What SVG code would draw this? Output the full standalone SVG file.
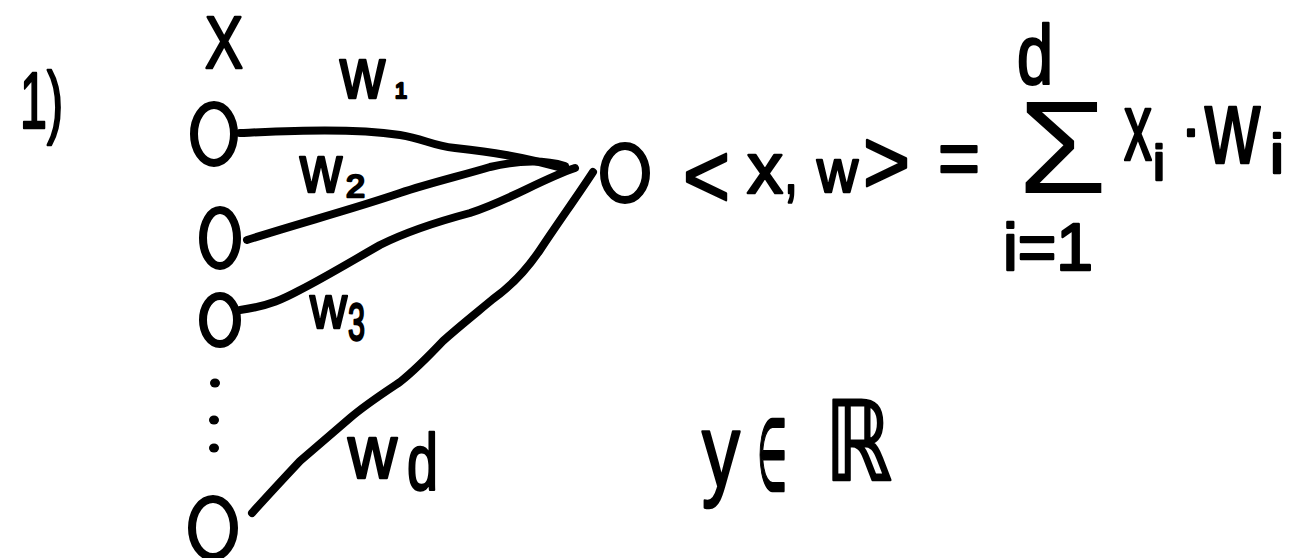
<svg xmlns="http://www.w3.org/2000/svg" width="1300" height="558" viewBox="0 0 1300 558">
<style>
  .bg { fill: #ffffff; }
  .node { fill: none; stroke: #000; stroke-width: 8; }
  .edge { fill: none; stroke: #000; stroke-width: 8; stroke-linecap: round; stroke-linejoin: round; }
  .t { font-family: "Liberation Sans", "DejaVu Sans", Arial, sans-serif; fill: #000; stroke: #000; stroke-width: 2.5; stroke-linejoin: round; }
  .big { stroke-width: 0; }
  .dot { fill: #000; }
</style>
<rect class="bg" x="0" y="0" width="1300" height="558"/>

<text class="t" x="20" y="128" font-size="80" textLength="43" lengthAdjust="spacingAndGlyphs">1)</text>

<g id="connectors">
  <path class="edge" d="M240,133 C290,131 350,128 400,135 C425,139 430,145 455,148 C490,152 520,156 562,168"/>
  <path class="edge" d="M247,240 C300,223 350,210 400,193 C430,183 460,176 490,167 C520,160 545,160 565,166"/>
  <path class="edge" d="M240,310 C270,306 285,298 300,290 C320,280 340,268 380,245 C410,230 440,221 470,213 C510,200 540,180 575,168"/>
  <path class="edge" d="M593,172 C578,195 560,220 540,250 C525,272 510,287 493,299 C470,318 455,330 443,341 C425,360 415,370 400,382 C385,392 365,405 350,418 C330,435 315,448 300,461 C285,477 270,493 252,513"/>
  <text class="t" y="98"><tspan x="340" font-size="72" textLength="45" lengthAdjust="spacingAndGlyphs">w</tspan><tspan x="395" font-size="22" textLength="12" lengthAdjust="spacingAndGlyphs">1</tspan></text>
  <text class="t"><tspan x="300" y="192" font-size="66" textLength="42" lengthAdjust="spacingAndGlyphs">w</tspan><tspan x="346" y="197" font-size="32" textLength="19" lengthAdjust="spacingAndGlyphs">2</tspan></text>
  <text class="t"><tspan x="310" y="328" font-size="62" textLength="37" lengthAdjust="spacingAndGlyphs">w</tspan><tspan x="348" y="340" font-size="52" textLength="17" lengthAdjust="spacingAndGlyphs">3</tspan></text>
  <text class="t"><tspan x="348" y="478" font-size="76" textLength="49" lengthAdjust="spacingAndGlyphs">w</tspan><tspan x="407" y="490" font-size="80" textLength="31" lengthAdjust="spacingAndGlyphs">d</tspan></text>
</g>

<g id="input-1">
  <text class="t" x="205" y="68" font-size="74" textLength="38" lengthAdjust="spacingAndGlyphs">X</text>
  <ellipse class="node" cx="214" cy="134" rx="20" ry="29"/>
</g>
<g id="input-2">
  <ellipse class="node" cx="220" cy="238" rx="17" ry="28"/>
</g>
<g id="input-3">
  <ellipse class="node" cx="220" cy="320" rx="17" ry="24"/>
</g>
<g id="ellipsis">
  <ellipse class="dot" cx="215" cy="383" rx="5" ry="4.5"/>
  <ellipse class="dot" cx="214" cy="420" rx="5" ry="4.5"/>
  <ellipse class="dot" cx="214" cy="448" rx="5" ry="4.5"/>
</g>
<g id="input-d">
  <ellipse class="node" cx="213" cy="528" rx="21" ry="29"/>
</g>

<g id="output">
  <ellipse class="node" cx="625" cy="173" rx="21" ry="27"/>
</g>

<g id="formula">
  <text class="t" x="683" y="207" font-size="90" textLength="47" lengthAdjust="spacingAndGlyphs">&lt;</text>
  <text class="t" x="747" y="193" font-size="73" textLength="36" lengthAdjust="spacingAndGlyphs">x</text>
  <text class="t" x="784" y="193" font-size="73" textLength="14" lengthAdjust="spacingAndGlyphs">,</text>
  <text class="t" x="817" y="192" font-size="62" textLength="41" lengthAdjust="spacingAndGlyphs">w</text>
  <text class="t" x="863" y="193" font-size="90" textLength="47" lengthAdjust="spacingAndGlyphs">&gt;</text>
  <text class="t" x="938" y="185" font-size="80" textLength="42" lengthAdjust="spacingAndGlyphs">=</text>
  <text class="t"><tspan x="1017" y="84" font-size="84" textLength="36" lengthAdjust="spacingAndGlyphs">d</tspan><tspan class="big" x="1018" y="193" font-size="132" textLength="89" lengthAdjust="spacingAndGlyphs">Σ</tspan><tspan x="1003" y="270" font-size="67" textLength="90" lengthAdjust="spacingAndGlyphs">i=1</tspan></text>
  <text class="t"><tspan x="1124" y="160" font-size="96" textLength="28" lengthAdjust="spacingAndGlyphs">x</tspan><tspan x="1153" y="180" font-size="50" textLength="12" lengthAdjust="spacingAndGlyphs">i</tspan><tspan x="1181" y="149" font-size="60">·</tspan><tspan x="1205" y="163" font-size="106" textLength="55" lengthAdjust="spacingAndGlyphs">w</tspan><tspan x="1270" y="173" font-size="56" textLength="14" lengthAdjust="spacingAndGlyphs">i</tspan></text>
</g>

<g id="output-space">
  <text class="t" x="702" y="486" font-size="104" textLength="38" lengthAdjust="spacingAndGlyphs">y</text>
  <text class="t" x="757" y="490" font-size="100" textLength="30" lengthAdjust="spacingAndGlyphs">∈</text>
  <text class="t" x="825" y="480" font-size="110" textLength="67" lengthAdjust="spacingAndGlyphs">ℝ</text>
</g>
</svg>
